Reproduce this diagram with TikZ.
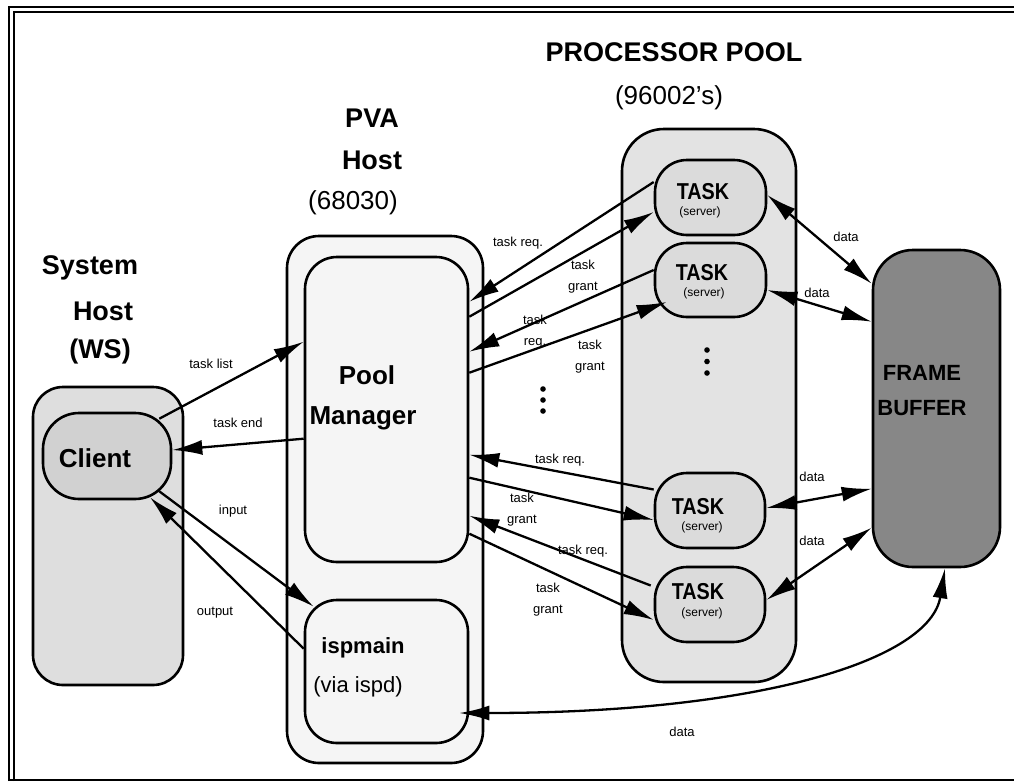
\documentclass[tikz,border=0pt]{standalone}
\usepackage{fontspec}
\setmainfont{Liberation Sans}
\usetikzlibrary{arrows.meta,calc}
\begin{document}
\begin{tikzpicture}[x=1pt,y=-1pt,
  box/.style={draw, line width=2.6pt, rounded corners=#1, inner sep=0pt, anchor=center},
  arr/.style={-{Latex[length=30pt,width=15pt]}, line width=2.3pt},
  darr/.style={{Latex[length=30pt,width=15pt]}-{Latex[length=30pt,width=15pt]}, line width=2.3pt},
  big/.style={font=\fontsize{27}{30}\selectfont\bfseries, inner sep=0pt},
  bigr/.style={font=\fontsize{26}{28}\selectfont, inner sep=0pt},
  lbl/.style={font=\fontsize{13}{21}\selectfont, align=center, inner sep=0pt},
  tasktxt/.style={font=\fontsize{23}{24}\selectfont\bfseries, inner sep=0pt},
  srv/.style={font=\fontsize{12}{14}\selectfont, inner sep=0pt}
]
\useasboundingbox (0,0) rectangle (1014,782);
% frame
\draw[line width=2.4pt] (9,781) -- (9,7) -- (1014,7);
\draw[line width=1.4pt] (14,781) -- (14,12) -- (1014,12);
\draw[line width=2.8pt] (9,780) -- (1014,780);

% boxes
\node[box=30pt, fill=black!13, minimum width=150pt, minimum height=298pt] (sh) at (108,536) {};
\node[box=36pt, fill=black!18, minimum width=128pt, minimum height=86pt] (client) at (107,456) {};
\node[box=32pt, fill=black!4, minimum width=196pt, minimum height=527pt] (pva) at (385,499.5) {};
\node[box=32pt, fill=black!4, minimum width=163pt, minimum height=305pt] (pm) at (386.5,409.5) {};
\node[box=32pt, fill=black!4, minimum width=163pt, minimum height=143pt] (isp) at (386.5,671.5) {};
\node[box=42pt, fill=black!11, minimum width=174pt, minimum height=553pt] (pool) at (709,405.5) {};
\node[box=32pt, fill=black!14, minimum width=111pt, minimum height=75pt] (t1) at (710.5,197.5) {};
\node[box=32pt, fill=black!14, minimum width=111pt, minimum height=74pt] (t2) at (710.5,280) {};
\node[box=32pt, fill=black!14, minimum width=110pt, minimum height=75pt] (t3) at (710,510.5) {};
\node[box=32pt, fill=black!14, minimum width=110pt, minimum height=75pt] (t4) at (710,604.5) {};
\node[box=40pt, fill=black!47, minimum width=127pt, minimum height=317pt] (fb) at (936.5,408.5) {};

% titles
\node[big] (tsys) at (90,268) {System};
\node[big] (tsh) at (103,311) {Host};
\node[big] (tws) at (100,352) {(WS)};
\node[big] (tpva) at (372,118) {PVA};
\node[big] (tpvh) at (372,160) {Host};
\node[bigr] (t68) at (353,203) {(68030)};
\node[big] (tpp) at (674,52) {PROCESSOR POOL};
\node[bigr] (t96) at (669,98) {(96002’s)};

% box texts
\node[font=\fontsize{26}{28}\selectfont\bfseries, inner sep=0pt] (tcl) at (95,458) {Client};
\node[font=\fontsize{26}{28}\selectfont\bfseries, inner sep=0pt] (tpool) at (367,375) {Pool};
\node[font=\fontsize{26}{28}\selectfont\bfseries, inner sep=0pt] (tman) at (363,418) {Manager};
\node[font=\fontsize{22}{24}\selectfont\bfseries, inner sep=0pt] (tisp) at (363,648) {ispmain};
\node[font=\fontsize{22}{24}\selectfont, inner sep=0pt] (tvia) at (358,687) {(via ispd)};
\node[font=\fontsize{22}{24}\selectfont\bfseries, inner sep=0pt] (tfr) at (922,373) {FRAME};
\node[font=\fontsize{22}{24}\selectfont\bfseries, inner sep=0pt] (tbu) at (922,408) {BUFFER};

\node[tasktxt] (k1) at (703,192) {\scalebox{0.86}[1]{TASK}};
\node[srv] (s1) at (700,212) {(server)};
\node[tasktxt] (k2) at (702,273) {\scalebox{0.86}[1]{TASK}};
\node[srv] (s2) at (704,293) {(server)};
\node[tasktxt] (k3) at (698,507) {\scalebox{0.86}[1]{TASK}};
\node[srv] (s3) at (702,527) {(server)};
\node[tasktxt] (k4) at (698,592) {\scalebox{0.86}[1]{TASK}};
\node[srv] (s4) at (702,613) {(server)};

% dots
\foreach \yy in {350,361.5,373} \fill (707,\yy) circle (2.8pt);
\foreach \yy in {389,400,411} \fill (543,\yy) circle (2.8pt);

% client <-> hosts
\draw[arr] ($(client.north east)+(-13,7)$) -- ($(pm.north west)+(0,86)$);
\draw[arr] ($(pm.north west)+(0,183)$) -- ($(client.east)+(0,-6)$);
\draw[arr] ($(client.south east)+(-13,-9)$) -- ($(isp.north west)+(10,8)$);
\draw[arr] ($(isp.north west)+(0,50)$) -- ($(client.south)+(43,-3)$);
\node[lbl] (l1) at (211,364) {task list};
\node[lbl] (l2) at (238,423) {task end};
\node[lbl] (l3) at (233,511) {input};
\node[lbl] (l4) at (215,613) {output};

% pool manager <-> tasks
\draw[arr] ($(t1.west)+(0,-15.5)$) -- ($(pm.north east)+(0,46)$);
\draw[arr] ($(pm.north east)+(0,61)$) -- ($(t1.west)+(0,14.5)$);
\draw[arr] ($(t2.west)+(0,-10)$) -- ($(pm.north east)+(0,96)$);
\draw[arr] ($(pm.north east)+(0,117)$) -- ($(t2.west)+(13,22)$);
\draw[arr] ($(t3.west)+(0,-21)$) -- ($(pm.north east)+(0,199)$);
\draw[arr] ($(pm.north east)+(0,222)$) -- ($(t3.west)+(0,9.5)$);
\draw[arr] ($(t4.west)+(-3,-19)$) -- ($(pm.north east)+(0,260)$);
\draw[arr] ($(pm.north east)+(0,278)$) -- ($(t4.west)+(0,15.5)$);
\node[lbl] (l5) at (518,243) {task req.};
\node[lbl] (l6) at (583,277) {task\\grant};
\node[lbl] (l7) at (535,332) {task\\req.};
\node[lbl] (l8) at (590,357) {task\\grant};
\node[lbl] (l9) at (560,460) {task req.};
\node[lbl] (l10) at (522,510) {task\\grant};
\node[lbl] (l11) at (583,551) {task req.};
\node[lbl] (l12) at (548,600) {task\\grant};

% data
\draw[darr] ($(t1.east)+(0,-2.5)$) -- ($(fb.north west)+(0,35)$);
\draw[darr] ($(t2.east)+(0,10)$) -- ($(fb.north west)+(0,73)$);
\draw[darr] ($(t3.east)+(0,-2.5)$) -- ($(fb.north west)+(0,240)$);
\draw[darr] ($(t4.east)+(0,-4.5)$) -- ($(fb.north west)+(0,279)$);
\draw[darr] ($(isp.east)+(-10,41.5)$) .. controls (760,713) and (930,660) .. ($(fb.south)+(8.5,0)$);
\node[lbl] (d1) at (846,237) {data};
\node[lbl] (d2) at (817,293) {data};
\node[lbl] (d3) at (812,477) {data};
\node[lbl] (d4) at (812,541) {data};
\node[lbl] (d5) at (682,732) {data};
\end{tikzpicture}
\end{document}
